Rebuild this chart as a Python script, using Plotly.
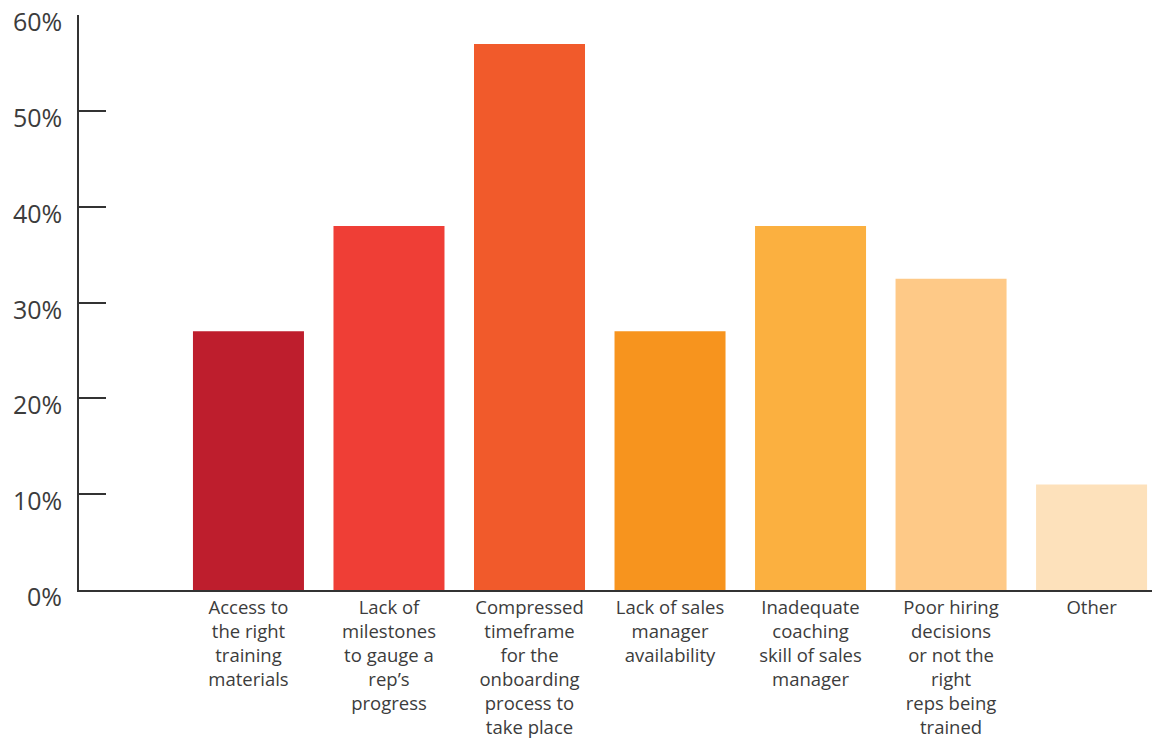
import plotly.graph_objects as go

categories = [
    "Access to<br>the right<br>training<br>materials",
    "Lack of<br>milestones<br>to gauge a<br>rep’s<br>progress",
    "Compressed<br>timeframe<br>for the<br>onboarding<br>process to<br>take place",
    "Lack of sales<br>manager<br>availability",
    "Inadequate<br>coaching<br>skill of sales<br>manager",
    "Poor hiring<br>decisions<br>or not the<br>right<br>reps being<br>trained",
    "Other",
]
values = [27, 38, 57, 27, 38, 32.5, 11]
colors = ["#BE1E2D", "#EF3E36", "#F15A2B", "#F7941E", "#FBB040", "#FEC987", "#FDE1BB"]
y_ticks = [0, 10, 20, 30, 40, 50, 60]
y_tick_text = [f"{v}%" for v in y_ticks]

positions = list(range(len(categories)))

fig = go.Figure(
    go.Bar(
        x=positions,
        y=values,
        marker=dict(color=colors, line=dict(width=0)),
        width=0.79,
        hoverinfo="skip",
    )
)

fig.update_layout(
    width=1152,
    height=739,
    margin=dict(l=79, r=0, t=15, b=149),
    paper_bgcolor="white",
    plot_bgcolor="white",
    showlegend=False,
    font=dict(family="'Open Sans', sans-serif", color="#3c3c3c"),
)

fig.update_xaxes(
    tickmode="array",
    tickvals=positions,
    ticktext=categories,
    range=[-1.206, 6.43],
    automargin=False,
    showgrid=False,
    zeroline=False,
    showline=True,
    linecolor="#333333",
    linewidth=2,
    ticks="",
    tickfont=dict(size=18.5, color="#3c3c3c"),
    tickangle=0,
)

fig.update_yaxes(
    range=[0, 60.02],
    automargin=False,
    tickmode="array",
    tickvals=y_ticks,
    showticklabels=False,
    showgrid=False,
    zeroline=False,
    showline=True,
    linecolor="#333333",
    linewidth=2,
    ticks="inside",
    ticklen=27,
    tickwidth=1.5,
    tickcolor="#333333",
)

for v, t in zip(y_ticks, y_tick_text):
    fig.add_annotation(
        x=0, xref="paper", y=v, yref="y",
        text=t, showarrow=False,
        xanchor="right", yanchor="middle",
        xshift=-15, yshift=-6,
        font=dict(size=25, color="#3c3c3c"),
    )

fig.write_html("out.html")
